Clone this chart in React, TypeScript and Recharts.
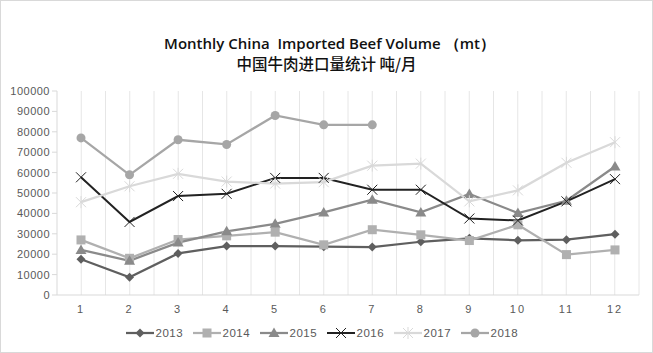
import React from "react"
import { LineChart, Line, XAxis, YAxis, CartesianGrid } from "recharts"

// month labels on the x axis
const months = ["1", "2", "3", "4", "5", "6", "7", "8", "9", "10", "11", "12"]

// monthly volumes (mt)
const y2013 = [17500, 8700, 20400, 24000, 24000, 23700, 23500, 26100, 27800, 26800, 27100, 29800]
const y2014 = [27000, 18000, 27200, 29000, 30800, 24600, 32000, 29500, 26700, 34400, 19800, 22100]
const y2015 = [22100, 16800, 25700, 31200, 34900, 40500, 46700, 40500, 49500, 40200, 46200, 63000]
const y2016 = [57700, 35800, 48500, 49600, 57400, 57400, 51600, 51600, 37500, 36500, 45900, 56800]
const y2017 = [45500, 53300, 59400, 55600, 54600, 55300, 63400, 64400, 45900, 51300, 64800, 74900]
const y2018 = [77000, 58900, 76100, 73800, 88000, 83400, 83400]

const yTicks = [0, 10000, 20000, 30000, 40000, 50000, 60000, 70000, 80000, 90000, 100000]
const minorTicks = Array.from({ length: 51 }, (_, i) => i * 2000)

const series = [
    { key: "2013", values: y2013, color: "#5f5f5f", shape: "diamond" },
    { key: "2014", values: y2014, color: "#b0b0b0", shape: "square" },
    { key: "2015", values: y2015, color: "#8a8a8a", shape: "triangle" },
    { key: "2016", values: y2016, color: "#222222", shape: "x" },
    { key: "2017", values: y2017, color: "#d9d9d9", shape: "star" },
    { key: "2018", values: y2018, color: "#a6a6a6", shape: "circle" },
]

const data = months.map((m, i) => {
    const row: any = { month: m }
    series.forEach(s => {
        row[s.key] = s.values[i]
    })
    return row
})

function Marker({ shape, color, cx, cy }: { shape: string; color: string; cx: number; cy: number }) {
    if (cx == null || cy == null) return null
    switch (shape) {
        case "diamond":
            return <path d={`M${cx},${cy - 4.5}L${cx + 4.5},${cy}L${cx},${cy + 4.5}L${cx - 4.5},${cy}Z`} fill={color} />
        case "square":
            return <rect x={cx - 4.5} y={cy - 4.5} width={9} height={9} fill={color} />
        case "triangle":
            return <path d={`M${cx},${cy - 5.5}L${cx + 5.5},${cy + 4}L${cx - 5.5},${cy + 4}Z`} fill={color} />
        case "x":
            return (
                <path d={`M${cx - 5},${cy - 5}L${cx + 5},${cy + 5}M${cx + 5},${cy - 5}L${cx - 5},${cy + 5}`}
                    stroke={color} strokeWidth={1} fill="none" />
            )
        case "star":
            return (
                <path d={`M${cx - 5},${cy - 5}L${cx + 5},${cy + 5}M${cx + 5},${cy - 5}L${cx - 5},${cy + 5}M${cx},${cy - 6}L${cx},${cy + 6}`}
                    stroke={color} strokeWidth={1} fill="none" />
            )
        default:
            return <circle cx={cx} cy={cy} r={4.5} fill={color} />
    }
}

function LegendRow() {
    return (
        <div style={{ display: "flex", justifyContent: "center", fontFamily: "Liberation Sans, sans-serif", fontSize: 11.5, color: "#595959" }}>
            {series.map(s => (
                <div key={s.key} style={{ display: "flex", alignItems: "center", width: 67 }}>
                    <svg width={28} height={12}>
                        <line x1={0} y1={6} x2={28} y2={6} stroke={s.color} strokeWidth={s.key === "2016" ? 2 : 2.25} />
                        <Marker shape={s.shape} color={s.color} cx={14} cy={6} />
                    </svg>
                    <span style={{ marginLeft: 2, letterSpacing: 0.5 }}>{s.key}</span>
                </div>
            ))}
        </div>
    )
}

export default function App() {
    const tickStyle = { fill: "#595959", stroke: "none", fontSize: 11, fontFamily: "Liberation Sans, sans-serif" }
    return (
        <div style={{ position: "absolute", left: 0, top: 0, width: 653, height: 353, background: "#fff", border: "1px solid #d9d9d9", boxSizing: "border-box" }}>
            <div style={{ position: "absolute", top: 33, left: 3, width: "100%", textAlign: "center", whiteSpace: "pre", fontFamily: "Open Sans, sans-serif", fontWeight: 600, fontSize: 15, color: "#111", lineHeight: "19px" }}>
                {"Monthly China  Imported Beef Volume （mt）"}
            </div>
            <div style={{ position: "absolute", top: 52, width: "100%", textAlign: "center", fontFamily: "Noto Sans CJK SC, sans-serif", fontWeight: 500, fontSize: 15.5, color: "#111", lineHeight: "20px" }}>
                中国牛肉进口量统计 吨/月
            </div>
            <div style={{ position: "absolute", left: -1, top: -1 }}>
                <LineChart width={653} height={353} data={data} margin={{ top: 91, right: 14, bottom: 38, left: 0 }}>
                    <CartesianGrid
                        horizontal={false}
                        stroke="#e6e6e6"
                        verticalCoordinatesGenerator={({ offset }: any) =>
                            Array.from({ length: 24 }, (_, i) => offset.left + ((i + 1) * offset.width) / 24)
                        }
                    />
                    <XAxis
                        dataKey="month"
                        scale="point"
                        padding={{ left: 24, right: 24 }}
                        axisLine={{ stroke: "#d9d9d9" }}
                        tickLine={false}
                        tick={{ ...tickStyle, letterSpacing: 2 }}
                        tickMargin={4}
                        height={20}
                    />
                    <YAxis
                        yAxisId="main"
                        domain={[0, 100000]}
                        ticks={yTicks}
                        interval={0}
                        width={57}
                        axisLine={{ stroke: "#d9d9d9" }}
                        tickLine={{ stroke: "#d9d9d9" }}
                        tickSize={5}
                        tick={{ ...tickStyle, letterSpacing: 0.5 }}
                    />
                    <YAxis
                        yAxisId="minor"
                        domain={[0, 100000]}
                        ticks={minorTicks}
                        interval={0}
                        width={0}
                        axisLine={false}
                        tick={false}
                        tickLine={{ stroke: "#d9d9d9" }}
                        tickSize={3}
                    />
                    {series.map(s => (
                        <Line
                            key={s.key}
                            yAxisId="main"
                            dataKey={s.key}
                            stroke={s.color}
                            strokeWidth={s.key === "2016" ? 2 : 2.25}
                            isAnimationActive={false}
                            connectNulls={false}
                            dot={(p: any) => <Marker key={`${s.key}-${p.index}`} shape={s.shape} color={s.color} cx={p.cx} cy={p.cy} />}
                            activeDot={false}
                        />
                    ))}
                </LineChart>
            </div>
            <div style={{ position: "absolute", left: 0, top: 326, width: "100%" }}>
                <LegendRow />
            </div>
        </div>
    )
}
